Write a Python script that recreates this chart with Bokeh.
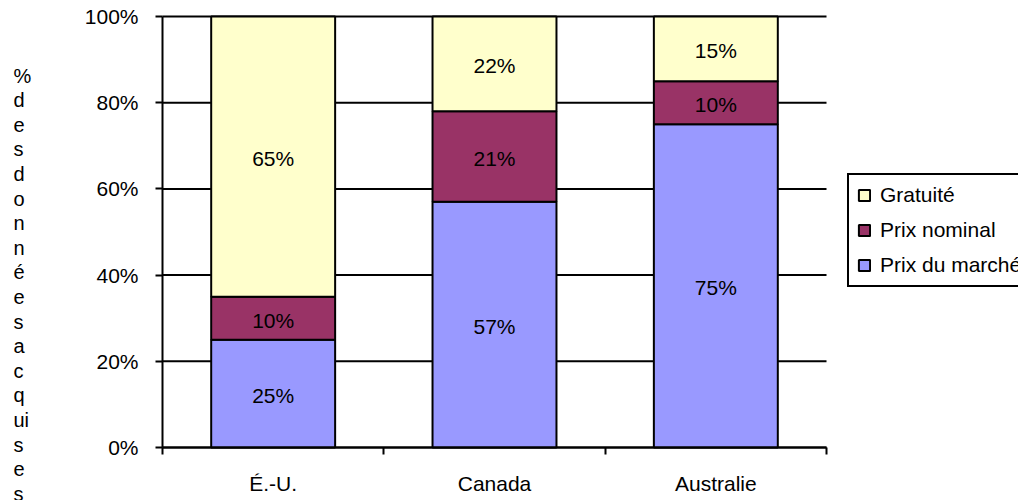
from bokeh.plotting import figure
from bokeh.models import (ColumnDataSource, Range1d, FixedTicker, Legend, LegendItem)
from bokeh.core.properties import value
from bokeh.embed import file_html
from bokeh.resources import INLINE

# ---- data ----
categories = ["É.-U.", "Canada", "Australie"]
prix_marche = [25, 57, 75]
prix_nominal = [10, 21, 10]
gratuite = [65, 22, 15]
series_names = ["Prix du marché", "Prix nominal", "Gratuité"]
series_colors = ["#9999FF", "#993366", "#FFFFCC"]
y_ticks = [0, 20, 40, 60, 80, 100]
y_tick_labels = ["0%", "20%", "40%", "60%", "80%", "100%"]
y_axis_title = ["%", "d", "e", "s", "d", "o", "n", "n", "é", "e", "s",
                "a", "c", "q", "ui", "s", "e", "s"]

FONT = "Liberation Sans"
FS = "21px"

# ---- layout (pixels on the canvas) ----
W, H = 1018, 500
PLOT_L, PLOT_R, PLOT_T, PLOT_B = 162, 826, 16, 447
ncat = len(categories)
ux = (PLOT_R - PLOT_L) / ncat          # px per category
uy = (PLOT_B - PLOT_T) / 100.0         # px per percent
x_start = -PLOT_L / ux
x_end = ncat + (W - PLOT_R) / ux
y_start = -(H - PLOT_B) / uy
y_end = 100 + PLOT_T / uy


def px2x(px):
    return (px - PLOT_L) / ux


def px2y(py):
    return (PLOT_B - py) / uy


# ---- figure ----
xs = [i + 0.5 for i in range(ncat)]
keys = ["marche", "nominal", "gratuite"]
src = ColumnDataSource(dict(x=xs, marche=prix_marche, nominal=prix_nominal,
                            gratuite=gratuite))

p = figure(width=W, height=H, x_range=Range1d(x_start, x_end),
           y_range=Range1d(y_start, y_end), output_backend="svg",
           toolbar_location=None, min_border=0)
p.title.visible = False
p.outline_line_color = None
p.background_fill_color = "white"
p.border_fill_color = "white"
p.grid.visible = False

# horizontal gridlines across the plot area only (behind the bars)
p.segment(x0=[0] * len(y_ticks), x1=[ncat] * len(y_ticks), y0=y_ticks,
          y1=y_ticks, line_color="black", line_width=2, level="underlay")

renderers = p.vbar_stack(keys, x="x", width=0.56, source=src,
                         fill_color=series_colors, line_color="black",
                         line_width=2)

# data labels (segment centres from the stacked values)
lab_x, lab_y, lab_t = [], [], []
for i in range(ncat):
    base = 0
    for vals in (prix_marche, prix_nominal, gratuite):
        v = vals[i]
        lab_x.append(xs[i])
        lab_y.append(base + v / 2)
        lab_t.append(f"{v}%")
        base += v
p.text(x=lab_x, y=lab_y, text=lab_t, text_align="center",
       text_baseline="middle", text_font=value(FONT), text_font_size=FS,
       text_color="black", y_offset=2)

# y axis
yax = p.yaxis[0]
yax.fixed_location = 0
yax.bounds = (0, 100)
yax.ticker = FixedTicker(ticks=y_ticks)
yax.major_label_overrides = {t: l for t, l in zip(y_ticks, y_tick_labels)}
yax.axis_line_color = "black"
yax.axis_line_width = 2
yax.major_tick_line_color = "black"
yax.major_tick_line_width = 2
yax.major_tick_out = 7
yax.major_tick_in = 0
yax.minor_tick_line_color = None
yax.major_label_standoff = 17
yax.major_label_text_font = FONT
yax.major_label_text_font_size = FS
yax.major_label_text_color = "black"

# x axis: labels at category centres, ticks at category boundaries
xax = p.xaxis[0]
xax.fixed_location = 0
xax.bounds = (0, ncat)
xax.ticker = FixedTicker(ticks=xs, minor_ticks=list(range(ncat + 1)))
xax.major_label_overrides = {x: c for x, c in zip(xs, categories)}
xax.axis_line_color = "black"
xax.axis_line_width = 2
xax.major_tick_out = 0
xax.major_tick_in = 0
xax.major_tick_line_color = None
xax.minor_tick_line_color = "black"
xax.minor_tick_line_width = 2
xax.minor_tick_out = 7
xax.minor_tick_in = 0
xax.major_label_standoff = 17
xax.major_label_text_font = FONT
xax.major_label_text_font_size = FS
xax.major_label_text_color = "black"

# stacked y-axis title, one letter per row
TITLE_X, TITLE_Y0, TITLE_DY = 13, 75, 24.6
p.text(x=[px2x(TITLE_X)] * len(y_axis_title),
       y=[px2y(TITLE_Y0 + TITLE_DY * i) for i in range(len(y_axis_title))],
       text=y_axis_title, text_align="left", text_baseline="middle",
       text_font=value(FONT), text_font_size="20px", text_color="black")

# series legend
items = [LegendItem(label=series_names[k], renderers=[renderers[k]])
         for k in reversed(range(len(series_names)))]
legend = Legend(items=items, location=(847, H - 287), orientation="vertical",
                border_line_color="black", border_line_width=2,
                border_line_alpha=1.0,
                background_fill_color="white", background_fill_alpha=1.0,
                padding=8, spacing=11, glyph_width=14, glyph_height=14,
                label_height=24, label_standoff=9,
                label_text_font=FONT, label_text_font_size=FS,
                label_text_color="black", margin=0)
p.add_layout(legend, "center")

open("out.html", "w").write(file_html(p, INLINE))
